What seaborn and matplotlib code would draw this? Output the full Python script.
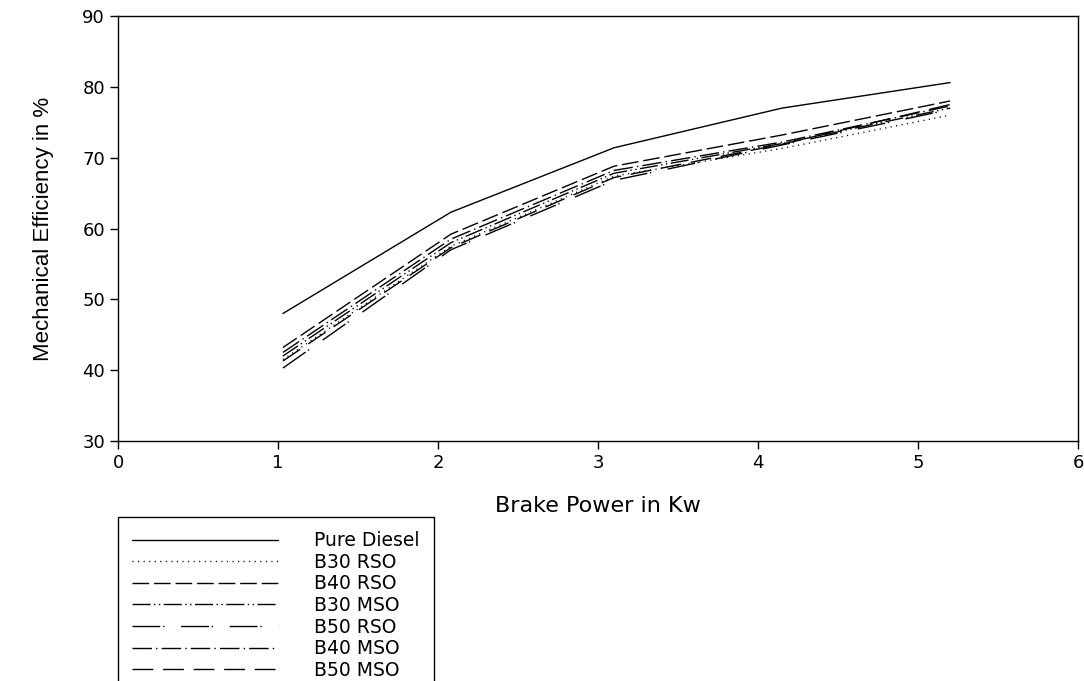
"""Mechanical efficiency vs brake power."""

import matplotlib
matplotlib.use("Agg")
import matplotlib.pyplot as plt
import pandas as pd
import seaborn as sns

brake_power = [1.03, 2.08, 3.10, 4.15, 5.20]
fuels = ["Pure Diesel", "B30 RSO", "B40 RSO", "B30 MSO", "B50 RSO", "B40 MSO", "B50 MSO"]
pure_diesel = [48.0, 62.3, 71.4, 77.0, 80.6]
b30_rso = [41.5, 57.5, 67.4, 71.3, 76.0]
b40_rso = [43.2, 59.2, 68.8, 73.2, 78.0]
b30_mso = [42.0, 58.0, 67.8, 72.0, 77.0]
b50_rso = [40.3, 57.0, 66.8, 71.8, 76.8]
b40_mso = [42.5, 58.5, 68.2, 72.2, 77.3]
b50_mso = [41.3, 57.3, 67.2, 71.9, 77.5]

series = [pure_diesel, b30_rso, b40_rso, b30_mso, b50_rso, b40_mso, b50_mso]
df = pd.DataFrame(
    [(f, x, y) for f, vals in zip(fuels, series) for x, y in zip(brake_power, vals)],
    columns=["fuel", "power", "eff"],
)

dashes = {
    "Pure Diesel": "",
    "B30 RSO": (0.8, 3.2),
    "B40 RSO": (12, 3.5),
    "B30 MSO": (13, 2.5, 1, 2.5, 1, 2.5),
    "B50 RSO": (20, 2, 1, 12),
    "B40 MSO": (14, 3, 1, 3),
    "B50 MSO": (15, 7),
}

sns.set_style("ticks")
plt.rcParams.update({
    "font.family": ["DejaVu Sans"],
    "text.color": "black",
    "axes.labelcolor": "black",
    "xtick.color": "black",
    "ytick.color": "black",
    "axes.edgecolor": "black",
})

fig = plt.figure(figsize=(10.84, 6.81), dpi=100)
ax = fig.add_axes([0.109, 0.3524, 0.8855, 0.6241])
sns.lineplot(data=df, x="power", y="eff", style="fuel", style_order=fuels,
             dashes=dashes, markers=False, errorbar=None, sort=False,
             color="black", linewidth=1.0, ax=ax, legend=True)

ax.set_xlim(0, 6)
ax.set_ylim(30, 90)
ax.set_xticks(range(0, 7))
ax.set_yticks(range(30, 91, 10))
ax.tick_params(direction="out", length=6, width=1, labelsize=13)
for s in ax.spines.values():
    s.set_visible(True)
    s.set_linewidth(1.0)
ax.set_xlabel("Brake Power in Kw", fontsize=16, labelpad=17)
ax.set_ylabel("Mechanical Efficiency in %", fontsize=16, labelpad=20,
              family=["Liberation Sans Narrow", "Liberation Sans"])

handles, labels = ax.get_legend_handles_labels()
ax.legend_.remove()
leg = fig.legend(handles, labels, loc="upper left",
                 bbox_to_anchor=(0.109, 0.2408), fontsize=13.5,
                 handlelength=7.8, handletextpad=1.9, labelspacing=0.14,
                 frameon=True, fancybox=False, edgecolor="black",
                 borderpad=0.75, borderaxespad=0)
leg.get_frame().set_linewidth(1.0)
leg.get_frame().set_alpha(1)

fig.savefig("out.png", dpi=100)
